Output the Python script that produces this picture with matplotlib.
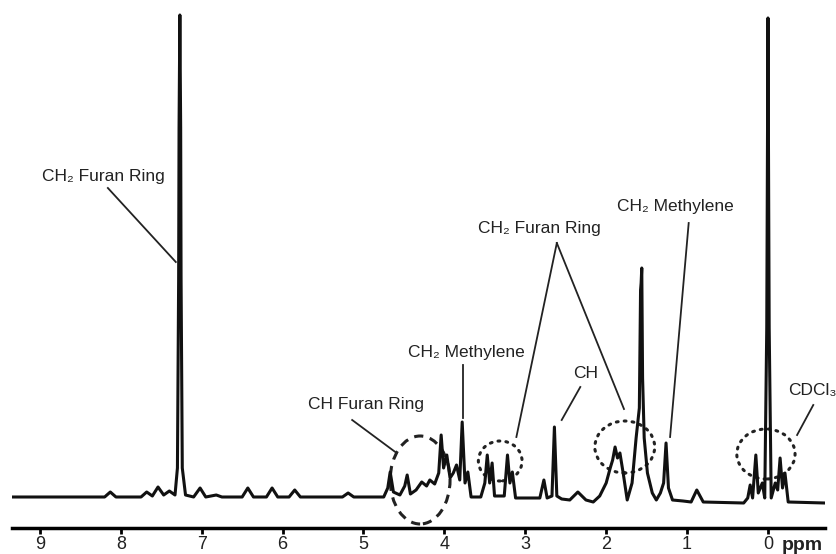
import matplotlib
matplotlib.use("Agg")
import matplotlib.pyplot as plt
from matplotlib.patches import Ellipse

plt.rcParams['font.family'] = ['Liberation Sans', 'DejaVu Sans']

# spectrum trace: chemical shift (ppm) and intensity
trace_ppm = [9.35, 8.20, 8.13, 8.06, 7.75, 7.68, 7.61, 7.54, 7.47, 7.40, 7.33,
             7.30, 7.285, 7.28, 7.27, 7.26, 7.255, 7.24, 7.20, 7.10, 7.02, 6.95,
             6.82, 6.75, 6.50, 6.43, 6.36, 6.20, 6.13, 6.06, 5.92, 5.85, 5.78,
             5.26, 5.19, 5.12, 4.75, 4.70, 4.67, 4.63, 4.55, 4.49, 4.46, 4.42,
             4.35, 4.28, 4.22, 4.18, 4.12, 4.07, 4.04, 4.01, 3.97, 3.93, 3.89,
             3.85, 3.81, 3.78, 3.745, 3.71, 3.67, 3.55, 3.50, 3.47, 3.44, 3.41,
             3.38, 3.26, 3.22, 3.19, 3.16, 3.12, 2.82, 2.77, 2.73, 2.67, 2.64,
             2.61, 2.55, 2.45, 2.35, 2.25, 2.16, 2.08, 2.00, 1.95, 1.92, 1.89,
             1.86, 1.83, 1.79, 1.74, 1.68, 1.63, 1.59, 1.575, 1.568, 1.56, 1.55,
             1.53, 1.49, 1.43, 1.38, 1.33, 1.29, 1.26, 1.23, 1.18, 1.05, 0.95,
             0.88, 0.80, 0.30, 0.25, 0.22, 0.19, 0.15, 0.12, 0.07, 0.04, 0.015,
             0.0, -0.015, -0.04, -0.09, -0.12, -0.15, -0.18, -0.21, -0.25, -0.70]
trace_int = [31, 31, 36, 31, 31, 36, 32, 41, 33, 37, 33,
             60, 250, 400, 513, 400, 250, 60, 33, 31, 40, 31,
             33, 31, 31, 40, 31, 31, 40, 31, 31, 38, 31,
             31, 35, 31, 31, 40, 56, 36, 33, 42, 53, 34,
             38, 46, 42, 48, 44, 55, 93, 60, 73, 50, 55,
             63, 48, 106, 45, 56, 31, 31, 45, 73, 45, 65,
             32, 32, 73, 45, 56, 30, 30, 48, 30, 32, 101,
             32, 29, 28, 36, 28, 26, 32, 45, 60, 68, 81,
             70, 75, 55, 28, 45, 90, 120, 238, 245, 260, 150,
             90, 55, 35, 28, 35, 45, 85, 40, 28, 27, 26,
             38, 26, 25, 30, 43, 30, 73, 35, 45, 30, 200,
             510, 200, 30, 45, 38, 70, 40, 55, 26, 25]

tick_ppm = [0, 1, 2, 3, 4, 5, 6, 7, 8, 9]

# labels: text, text position, leader lines
labels = [
    ("CH\u2082 Furan Ring", 8.21, 351, [((8.16, 340), (7.32, 266))]),
    ("CH\u2082 Methylene", 3.73, 175, [((3.77, 163), (3.77, 110))]),
    ("CH Furan Ring", 4.97, 123, [((5.14, 108), (4.59, 75))]),
    ("CH\u2082 Furan Ring", 2.82, 300, [((2.61, 285), (3.11, 91)),
                                    ((2.61, 285), (1.78, 119))]),
    ("CH", 2.25, 155, [((2.32, 141), (2.55, 108))]),
    ("CH\u2082 Methylene", 1.15, 321, [((0.98, 305), (1.21, 91))]),
]

fig = plt.figure(figsize=(8.37, 5.54), dpi=100)
ax = fig.add_axes([12 / 837, 26 / 554, 813 / 837, 528 / 554])

ax.plot(trace_ppm, trace_int, color="#111111", lw=2.2, solid_joinstyle="round")

# marked regions
ax.add_patch(Ellipse((4.30, 48), 0.74, 88, angle=0, fill=False, color="#222222",
                     lw=2.2, linestyle=(0, (3, 2.2))))
for cx, cy, w, h in [(3.31, 67, 0.54, 40), (1.77, 81, 0.74, 52), (0.025, 74, 0.72, 50)]:
    ax.add_patch(Ellipse((cx, cy), w, h, fill=False, color="#222222", lw=2.2,
                         linestyle=(0, (0.6, 2.0)), capstyle="round"))

for text, tx, ty, lines in labels:
    ax.text(tx, ty, text, ha="center", va="center", fontsize=12.5, color="#222222")
    for (x0, y0), (x1, y1) in lines:
        ax.plot([x0, x1], [y0, y1], color="#222222", lw=1.3)

ax.text(-0.25, 138, "CDCl\u2083", ha="left", va="center", fontsize=12.5, color="#222222",
        clip_on=False)
ax.plot([-0.56, -0.36], [123, 93], color="#222222", lw=1.3)

ax.set_xlim(9.345, -0.705)
ax.set_ylim(0, 528)
ax.set_xticks(tick_ppm)
ax.set_xticklabels([str(t) for t in tick_ppm], fontsize=13, color="#222222")
ax.tick_params(axis="x", direction="out", length=4, width=2, pad=2, color="black")
ax.set_yticks([])
for s in ["top", "left", "right"]:
    ax.spines[s].set_visible(False)
ax.spines["bottom"].set_linewidth(2.5)
ax.spines["bottom"].set_color("black")

fig.text(782 / 837, 1 - 545 / 554, "ppm", ha="left", va="center", fontsize=14,
         fontweight="bold", color="#222222")

fig.savefig("out.png", dpi=100)
